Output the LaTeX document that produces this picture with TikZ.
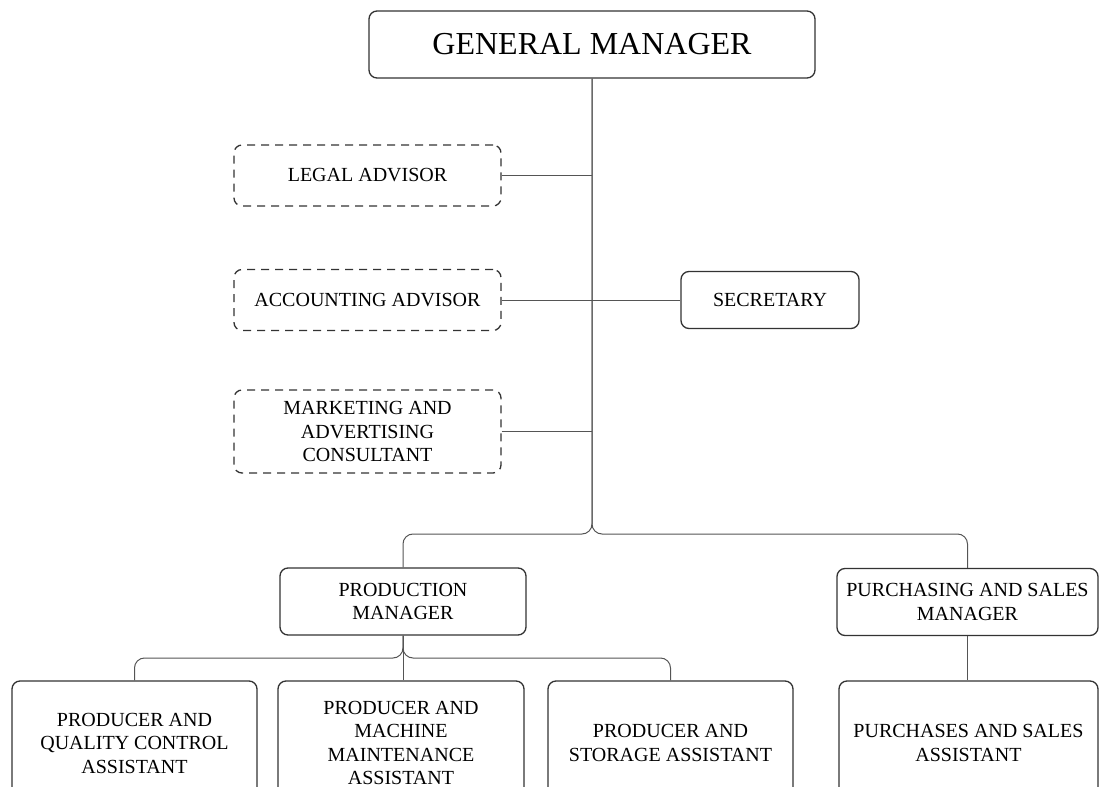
\documentclass[tikz,border=0pt]{standalone}
\usepackage{fontspec}
\setmainfont{Liberation Serif}
\usetikzlibrary{calc}
\definecolor{boxline}{HTML}{333333}
\definecolor{wireline}{HTML}{555555}
\tikzstyle{headbox} = [rectangle, rounded corners=4pt, minimum width=223pt, minimum height=33.5pt, align=center, draw=boxline, line width=0.65pt, font=\fontsize{16}{19}\selectfont]
\tikzstyle{advisor} = [rectangle, rounded corners=4pt, minimum width=133.5pt, minimum height=30.5pt, align=center, draw=boxline, line width=0.65pt, dash pattern=on 4pt off 3pt, font=\fontsize{10}{11.75}\selectfont]
\tikzstyle{unit} = [rectangle, rounded corners=4pt, minimum width=123pt, minimum height=33.5pt, align=center, draw=boxline, line width=0.65pt, font=\fontsize{10}{11.75}\selectfont]
\tikzstyle{staff} = [unit, minimum width=122.5pt, minimum height=62pt]
\tikzstyle{wire} = [draw=wireline, line width=0.5pt, rounded corners=5pt]
\begin{document}
\begin{tikzpicture}[x=0.5pt, y=-0.5pt]
\useasboundingbox (0,0) rectangle (1100,787);
\clip (0,0) rectangle (1100,787);
\node (gm)    [headbox] at (592,44.5)  {GENERAL MANAGER};
\node (legal) [advisor] at (367.5,175.5) {LEGAL ADVISOR};
\node (acc)   [advisor] at (367.5,300) {ACCOUNTING ADVISOR};
\node (mkt)   [advisor, minimum height=41.5pt] at (367.5,431.5) {MARKETING AND\\ADVERTISING\\CONSULTANT};
\node (sec)   [unit, minimum width=89pt, minimum height=28.5pt] at (770,300) {SECRETARY};
\node (pm)    [unit] at (403,601.5) {PRODUCTION\\MANAGER};
\node (psm)   [unit, minimum width=130.5pt] at (967.5,602) {PURCHASING AND SALES\\MANAGER};
% bottom row runs past the lower edge of the page
\node (qc)    [staff] at (134.5,743) {PRODUCER AND\\QUALITY CONTROL\\ASSISTANT};
\node (mm)    [staff, minimum width=123pt] at (401,743) {PRODUCER AND\\MACHINE\\MAINTENANCE\\ASSISTANT};
\node (st)    [staff] at (670.5,743) {PRODUCER AND\\STORAGE ASSISTANT};
\node (ps)    [staff, minimum width=129.5pt] at (968.5,743) {PURCHASES AND SALES\\ASSISTANT};
\coordinate (split) at (592,534);
\coordinate (split2) at (403,658);
\draw [wire] (legal.east) -- (legal.east -| gm.south);
\draw [wire] (acc.east) -- (sec.west);
\draw [wire] (mkt.east) -- (mkt.east -| gm.south);
\draw [wire] (gm.south) |- (pm.north |- split) -- (pm.north);
\draw [wire] (gm.south) |- (psm.north |- split) -- (psm.north);
\draw [wire] (pm.south) |- (qc.north |- split2) -- (qc.north);
\draw [wire] (pm.south) |- (st.north |- split2) -- (st.north);
\draw [wire] (pm.south) -- (pm.south |- mm.north);
\draw [wire] (psm.south) -- (psm.south |- ps.north);
\end{tikzpicture}
\end{document}
